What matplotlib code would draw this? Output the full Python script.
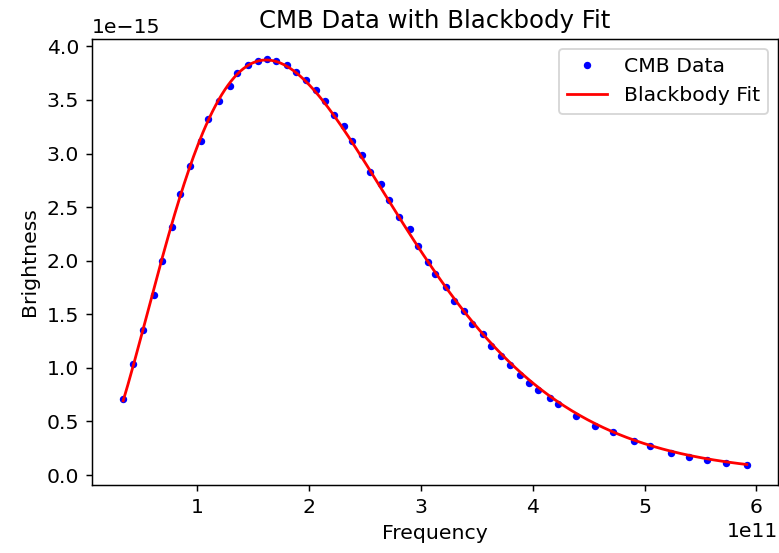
import numpy as np
import matplotlib
matplotlib.use('Agg')
from matplotlib import pyplot as plt


# CMB spectrum (frequency in 1e11 Hz, brightness in 1e-15)
freq_e11 = [0.337, 0.429, 0.518, 0.612, 0.680, 0.775, 0.843, 0.932, 1.036, 1.100,
            1.198, 1.293, 1.358, 1.455, 1.544, 1.619, 1.707, 1.802, 1.879, 1.968,
            2.063, 2.143, 2.222, 2.314, 2.382, 2.476, 2.545, 2.642, 2.713, 2.802,
            2.906, 2.970, 3.062, 3.130, 3.225, 3.293, 3.388, 3.459, 3.556, 3.625,
            3.713, 3.793, 3.882, 3.971, 4.044, 4.154, 4.228, 4.391, 4.557, 4.719,
            4.903, 5.050, 5.234, 5.400, 5.562, 5.731, 5.915]
bright_e15 = [0.706, 1.032, 1.357, 1.676, 2.001, 2.314, 2.618, 2.884, 3.113, 3.324,
              3.494, 3.627, 3.748, 3.822, 3.860, 3.880, 3.860, 3.826, 3.764, 3.690,
              3.594, 3.494, 3.364, 3.256, 3.116, 2.983, 2.828, 2.714, 2.565, 2.410,
              2.296, 2.140, 1.986, 1.877, 1.759, 1.620, 1.527, 1.410, 1.320, 1.202,
              1.109, 1.025, 0.929, 0.855, 0.793, 0.722, 0.660, 0.551, 0.453, 0.397,
              0.319, 0.267, 0.202, 0.164, 0.142, 0.109, 0.096]

freq = np.array(freq_e11) * 1e11
bright = np.array(bright_e15) * 1e-15

# Blackbody fit: grid over T, amplitude by least squares
h = 6.626e-34
k = 1.381e-23


def planck_shape(nu, T):
    return nu**3 / np.expm1(h * nu / (k * T))


best = None
for T in np.linspace(2.4, 3.1, 1401):
    s = planck_shape(freq, T)
    A = np.dot(s, bright) / np.dot(s, s)
    err = np.sum((bright - A * s) ** 2)
    if best is None or err < best[0]:
        best = (err, T, A)
_, T_fit, A_fit = best

nu_fit = np.linspace(freq.min(), freq.max(), 400)
b_fit = A_fit * planck_shape(nu_fit, T_fit)

# Plot
plt.rcParams['font.size'] = 11
dpi = 133
fig = plt.figure(figsize=(779 / dpi, 553 / dpi), dpi=dpi)
ax = fig.add_axes([92 / 779, 68 / 553, 686 / 779, 446 / 553])
ax.plot(freq, bright, 'b.', label='CMB Data')
ax.plot(nu_fit, b_fit, 'r-', label='Blackbody Fit')
ax.set_xlabel('Frequency')
ax.set_ylabel('Brightness')
ax.set_title('CMB Data with Blackbody Fit')
ax.legend()

fig.savefig('out.png', dpi=dpi)
